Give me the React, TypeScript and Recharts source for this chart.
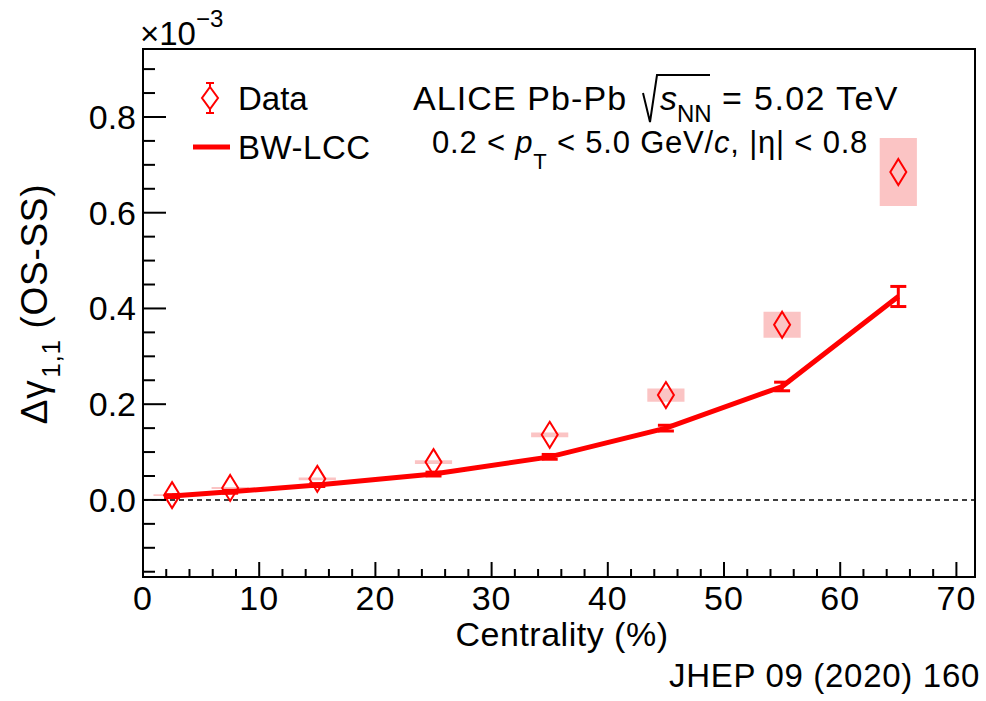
import { ComposedChart, Line, Scatter, XAxis, YAxis, ReferenceArea, ReferenceLine, ErrorBar } from "recharts";

// centrality bin centres (%)
const centrality = [2.5, 7.5, 15, 25, 35, 45, 55, 65];
// measured Δγ(OS-SS), x10^-3
const dataValues = [0.010, 0.025, 0.044, 0.079, 0.136, 0.219, 0.366, 0.685];
const dataSys = [0.002, 0.002, 0.003, 0.004, 0.005, 0.014, 0.027, 0.071];
const sysHalfWidth = 1.6;
// blast-wave + local charge conservation model
const modelValues = [0.008, 0.017, 0.031, 0.054, 0.090, 0.150, 0.237, 0.425];
const modelErr = [0.003, 0.003, 0.003, 0.004, 0.005, 0.006, 0.009, 0.021];

const xDomain: [number, number] = [0, 71.6];
const yDomain: [number, number] = [-0.161, 0.942];
const xTicks = [0, 2, 4, 6, 8, 10, 12, 14, 16, 18, 20, 22, 24, 26, 28, 30, 32, 34, 36, 38, 40, 42, 44, 46, 48, 50, 52, 54, 56, 58, 60, 62, 64, 66, 68, 70];
const xMajor = [0, 10, 20, 30, 40, 50, 60, 70];
const yTicks = [-0.15, -0.1, -0.05, 0, 0.05, 0.1, 0.15, 0.2, 0.25, 0.3, 0.35, 0.4, 0.45, 0.5, 0.55, 0.6, 0.65, 0.7, 0.75, 0.8, 0.85, 0.9];
const yMajor = [0, 0.2, 0.4, 0.6, 0.8];

const dataPoints = centrality.map((x, i) => ({ x, y: dataValues[i], sys: dataSys[i] }));
const modelPoints = centrality.map((x, i) => ({ x, y: modelValues[i], err: modelErr[i] }));

const FONT = "'Liberation Sans', Arial, Helvetica, sans-serif";
const RED = "#ff0000";

const isMajor = (v: number, majors: number[]) => majors.some((m) => Math.abs(m - v) < 1e-6);

function BottomTick({ x, y, payload }: any) {
  const major = isMajor(payload.value, xMajor);
  return (
    <g>
      <line x1={x} x2={x} y1={y} y2={y - (major ? 15 : 8)} stroke="#000" strokeWidth={2} />
      {major && (
        <text x={x} y={y + 33} textAnchor="middle" fontSize={34} letterSpacing={1} fontFamily={FONT} fill="#000">
          {payload.value}
        </text>
      )}
    </g>
  );
}

function TopTick({ x, y, payload }: any) {
  const major = isMajor(payload.value, xMajor);
  return <line x1={x} x2={x} y1={y} y2={y + (major ? 16 : 8)} stroke="#000" strokeWidth={2} />;
}

function LeftTick({ x, y, payload }: any) {
  const major = isMajor(payload.value, yMajor);
  return (
    <g>
      <line x1={x} x2={x + (major ? 23 : 12)} y1={y} y2={y} stroke="#000" strokeWidth={2} />
      {major && (
        <text x={x - 7} y={y} textAnchor="end" dominantBaseline="central" fontSize={34} fontFamily={FONT} fill="#000">
          {payload.value.toFixed(1)}
        </text>
      )}
    </g>
  );
}

function RightTick({ x, y, payload }: any) {
  const major = isMajor(payload.value, yMajor);
  return <line x1={x} x2={x - (major ? 22 : 11)} y1={y} y2={y} stroke="#000" strokeWidth={2} />;
}

function Diamond({ cx, cy }: any) {
  return (
    <path
      d={`M${cx},${cy - 13} L${cx + 8},${cy} L${cx},${cy + 13} L${cx - 8},${cy} Z`}
      fill="none"
      stroke={RED}
      strokeWidth={2}
    />
  );
}

function Annotations() {
  return (
    <g fontFamily={FONT} fill="#000">
      {/* axis multiplier */}
      <text x={140} y={45} fontSize={33}>
        ×10
        <tspan dy={-18} fontSize={24}>−3</tspan>
      </text>

      {/* legend */}
      <line x1={210} x2={210} y1={83} y2={113} stroke={RED} strokeWidth={2} />
      <line x1={206} x2={214} y1={83} y2={83} stroke={RED} strokeWidth={2} />
      <line x1={206} x2={214} y1={113} y2={113} stroke={RED} strokeWidth={2} />
      <path d="M210,87 L218,98 L210,109 L202,98 Z" fill="#fff" stroke={RED} strokeWidth={2} />
      <text x={238} y={110} fontSize={33}>Data</text>
      <line x1={193} x2={230} y1={147} y2={147} stroke={RED} strokeWidth={5} />
      <text x={238} y={159} fontSize={33} letterSpacing={0.5}>BW-LCC</text>

      {/* collision system */}
      <text x={413} y={110} fontSize={34} letterSpacing={1.1}>ALICE Pb-Pb</text>
      <path d="M643,93 L650,122 L657,75 L710,75" fill="none" stroke="#000" strokeWidth={2} />
      <text x={660} y={110} fontSize={34}>
        <tspan fontStyle="italic">s</tspan>
        <tspan dy={12} fontSize={24}>NN</tspan>
      </text>
      <text x={722} y={110} fontSize={34} letterSpacing={1.4}>= 5.02 TeV</text>
      <text x={432} y={153} fontSize={31} letterSpacing={0.8}>
        0.2 &lt; <tspan fontStyle="italic">p</tspan>
        <tspan dy={16} fontSize={22}>T</tspan>
        <tspan dy={-16}> &lt; 5.0 GeV/</tspan>
        <tspan fontStyle="italic">c</tspan>, |η| &lt; 0.8
      </text>

      {/* axis titles */}
      <text transform="translate(47,304) rotate(-90)" textAnchor="middle" fontSize={37} letterSpacing={0.7}>
        Δγ
        <tspan dx={2} dy={13} fontSize={26}>1,1</tspan>
        <tspan dy={-13}> (OS-SS)</tspan>
      </text>
      <text x={562} y={646} textAnchor="middle" fontSize={34} letterSpacing={0.5}>Centrality (%)</text>

      <text x={980} y={687} textAnchor="end" fontSize={33} letterSpacing={0.7}>JHEP 09 (2020) 160</text>
    </g>
  );
}

export default function App() {
  return (
    <div style={{ position: "absolute", left: 0, top: 0, background: "#fff" }}>
      <ComposedChart width={986} height={701} margin={{ top: 49, right: 11, left: 0, bottom: 0 }}>
        <XAxis
          xAxisId="bottom"
          type="number"
          dataKey="x"
          domain={xDomain}
          allowDataOverflow
          ticks={xTicks}
          interval={0}
          height={124}
          tickSize={0}
          tickMargin={0}
          stroke="#000"
          strokeWidth={2}
          tick={<BottomTick />}
        />
        <XAxis
          xAxisId="top"
          orientation="top"
          type="number"
          dataKey="x"
          domain={xDomain}
          allowDataOverflow
          ticks={xTicks}
          interval={0}
          height={0}
          tickSize={0}
          tickMargin={0}
          stroke="#000"
          strokeWidth={2}
          tick={<TopTick />}
        />
        <YAxis
          yAxisId="left"
          type="number"
          domain={yDomain}
          allowDataOverflow
          ticks={yTicks}
          interval={0}
          width={143}
          tickSize={0}
          tickMargin={0}
          stroke="#000"
          strokeWidth={2}
          tick={<LeftTick />}
        />
        <YAxis
          yAxisId="right"
          orientation="right"
          type="number"
          domain={yDomain}
          allowDataOverflow
          ticks={yTicks}
          interval={0}
          width={0}
          tickSize={0}
          tickMargin={0}
          stroke="#000"
          strokeWidth={2}
          tick={<RightTick />}
        />

        {dataPoints.map((p) => (
          <ReferenceArea
            key={p.x}
            xAxisId="bottom"
            yAxisId="left"
            x1={p.x - sysHalfWidth}
            x2={p.x + sysHalfWidth}
            y1={p.y - p.sys}
            y2={p.y + p.sys}
            fill="#fbc4c4"
            fillOpacity={1}
            stroke="none"
          />
        ))}

        {/* plot frame */}
        <ReferenceArea
          xAxisId="bottom"
          yAxisId="left"
          x1={xDomain[0]}
          x2={xDomain[1]}
          y1={yDomain[0]}
          y2={yDomain[1]}
          fill="none"
          stroke="#000"
          strokeWidth={2}
        />

        <ReferenceLine xAxisId="bottom" yAxisId="left" y={0} stroke="#000" strokeWidth={1.5} strokeDasharray="5 4" />

        <Line
          xAxisId="bottom"
          yAxisId="left"
          data={modelPoints}
          dataKey="y"
          stroke={RED}
          strokeWidth={5}
          dot={false}
          isAnimationActive={false}
        >
          <ErrorBar dataKey="err" direction="y" width={8} stroke={RED} strokeWidth={3} />
        </Line>

        <Scatter
          xAxisId="bottom"
          yAxisId="left"
          data={dataPoints}
          dataKey="y"
          shape={<Diamond />}
          isAnimationActive={false}
        />

        <Annotations />
      </ComposedChart>
    </div>
  );
}
